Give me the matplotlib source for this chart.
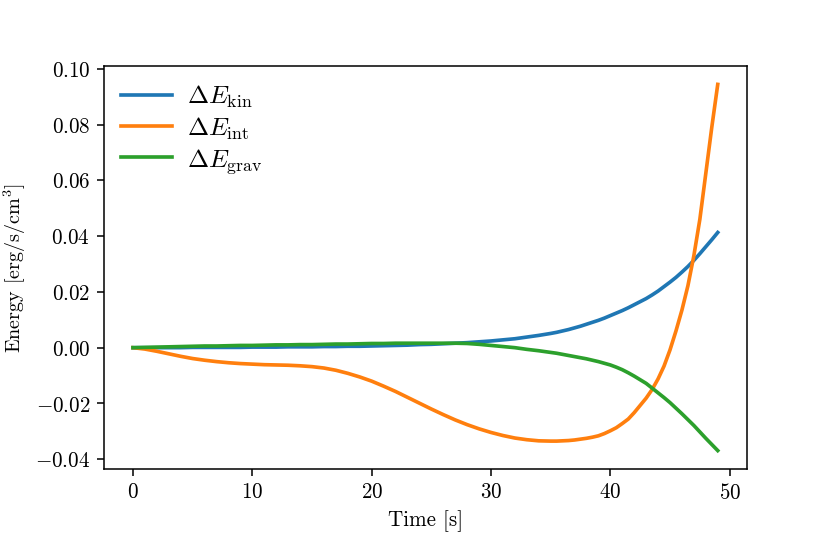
import matplotlib
matplotlib.use("Agg")
import matplotlib.pyplot as plt
import numpy as np

plt.rcParams["font.family"] = "serif"
plt.rcParams["font.serif"] = ["cmr10"]
plt.rcParams["mathtext.fontset"] = "cm"
plt.rcParams["axes.formatter.use_mathtext"] = True
plt.rcParams["font.size"] = 11

# whole seconds up to 34 s, half seconds afterwards
time = np.concatenate([np.arange(0, 35), np.arange(35, 49.5, 0.5)])

e_kin = [
    0, 0, 0, 0, 0, 0.0001, 0.0001, 0.0001, 0.0001, 0.0001,
    0.0002, 0.0002, 0.0002, 0.0003, 0.0003, 0.0003, 0.0004, 0.0004, 0.0005, 0.0005,
    0.0006, 0.0007, 0.0008, 0.0009, 0.0011, 0.0012, 0.0014, 0.0016, 0.0018, 0.0021,
    0.0024, 0.0028, 0.0032, 0.0038, 0.0044,
    0.0051, 0.0055, 0.0060, 0.0065, 0.0071, 0.0077, 0.0084, 0.0091, 0.0098, 0.0106,
    0.0115, 0.0124, 0.0133, 0.0143, 0.0154, 0.0165, 0.0176, 0.0189, 0.0203, 0.0219,
    0.0235, 0.0252, 0.0271, 0.0291, 0.0313, 0.0337, 0.0362, 0.0387, 0.0413,
]
e_int = [
    0, -0.0005, -0.0013, -0.0022, -0.0031, -0.0039, -0.0045, -0.0050, -0.0054, -0.0057,
    -0.0059, -0.0061, -0.0062, -0.0063, -0.0065, -0.0068, -0.0073, -0.0081, -0.0092, -0.0105,
    -0.0120, -0.0138, -0.0157, -0.0178, -0.0199, -0.0220, -0.0240, -0.0259, -0.0276, -0.0291,
    -0.0304, -0.0315, -0.0324, -0.0330, -0.0334,
    -0.0335, -0.0335, -0.0334, -0.0333, -0.0331, -0.0328, -0.0325, -0.0321, -0.0316, -0.0308,
    -0.0298, -0.0287, -0.0272, -0.0256, -0.0233, -0.0207, -0.0181, -0.0150, -0.0112, -0.0066,
    -0.0008, 0.0060, 0.0135, 0.0222, 0.0330, 0.0460, 0.0625, 0.0790, 0.0944,
]
e_grav = [
    0, 0.0001, 0.0002, 0.0003, 0.0004, 0.0005, 0.0006, 0.0006, 0.0007, 0.0008,
    0.0008, 0.0009, 0.0010, 0.0010, 0.0011, 0.0011, 0.0012, 0.0013, 0.0013, 0.0014,
    0.0015, 0.0015, 0.0016, 0.0016, 0.0016, 0.0016, 0.0016, 0.0016, 0.0015, 0.0012,
    0.0008, 0.0004, 0.0000, -0.0006, -0.0011,
    -0.0017, -0.0020, -0.0024, -0.0028, -0.0032, -0.0036, -0.0040, -0.0045, -0.0050, -0.0056,
    -0.0062, -0.0070, -0.0079, -0.0090, -0.0102, -0.0115, -0.0128, -0.0145, -0.0162, -0.0179,
    -0.0197, -0.0217, -0.0237, -0.0258, -0.0279, -0.0302, -0.0325, -0.0347, -0.0369,
]

fig = plt.figure(figsize=(6, 4), dpi=138.33)
fig.subplots_adjust(left=0.125, right=0.9, top=0.88, bottom=0.152)
ax = fig.add_subplot(111)

ax.plot(time, e_kin, lw=1.9, label=r"$\Delta E_\mathrm{kin}$")
ax.plot(time, e_int, lw=1.9, label=r"$\Delta E_\mathrm{int}$")
ax.plot(time, e_grav, lw=1.9, label=r"$\Delta E_\mathrm{grav}$")

ax.legend(frameon=False, loc="upper left", fontsize="large", labelspacing=0.2,
          handletextpad=0.6, borderaxespad=0.3)
ax.set_xlabel("Time [s]")
ax.set_ylabel(r"Energy [erg/s/cm$^3$]", fontsize=10.5)
ax.yaxis.set_label_coords(-0.117, 0.5)

fig.savefig("out.png", dpi=138.33)
